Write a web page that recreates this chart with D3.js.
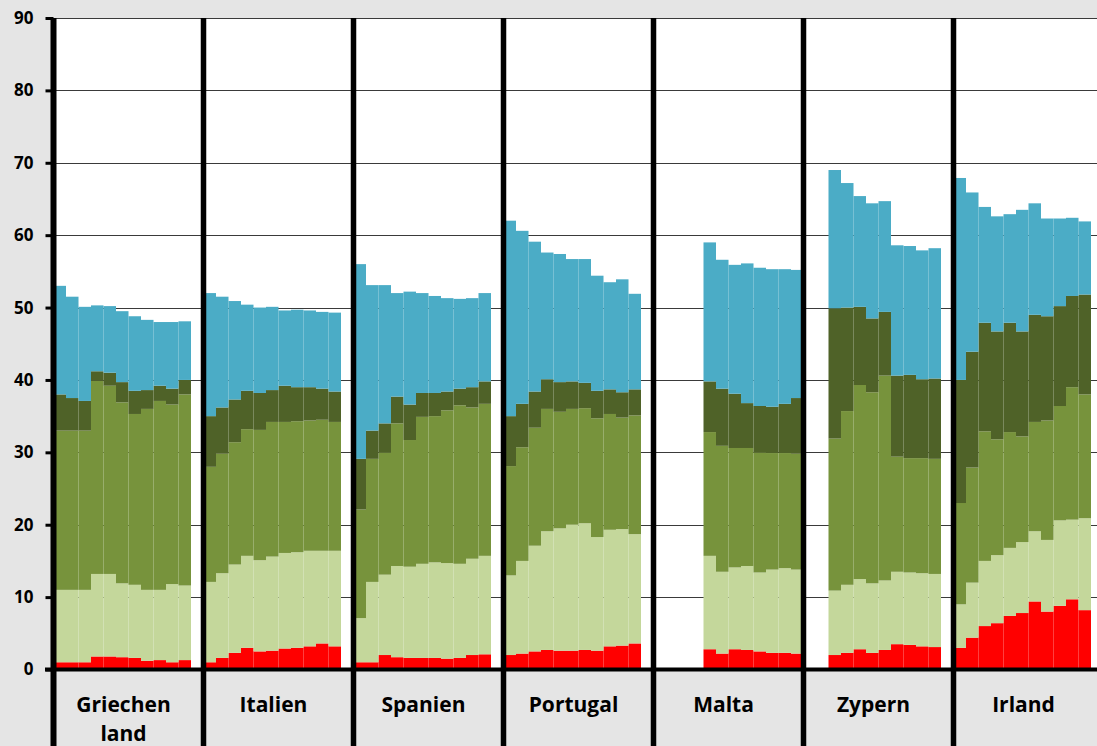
<!DOCTYPE html>
<html>
<head>
<meta charset="utf-8">
<script src="https://cdn.jsdelivr.net/npm/d3@7"></script>
<style>
  html, body { margin: 0; padding: 0; background: #e5e5e5; }
  svg { display: block; }
</style>
</head>
<body>
<svg id="chart" width="1097" height="746"></svg>
<script>
// ---------- DATA ----------
const categories = ["Griechen\nland", "Italien", "Spanien", "Portugal", "Malta", "Zypern", "Irland"];
const slots = ["s1","s2","s3","s4","s5","s6","s7","s8","s9","s10","s11","s12"];
const yTicks = [0, 10, 20, 30, 40, 50, 60, 70, 80, 90];
const seriesKeys = ["rot", "hellgruen", "gruen", "dunkelgruen", "blau"];
const seriesColors = ["#ff0000", "#c4d79b", "#77933c", "#4f6228", "#4bacc6"];

// one row per country, 12 slots (null = no bar)
const rot = [
  [1.0,1.0,1.0,1.8,1.8,1.7,1.6,1.2,1.3,1.0,1.3,null],
  [1.0,1.6,2.3,3.0,2.5,2.6,2.9,3.0,3.2,3.6,3.2,null],
  [1.0,1.0,2.0,1.7,1.6,1.6,1.6,1.5,1.6,2.0,2.1,null],
  [2.0,2.2,2.5,2.7,2.6,2.6,2.7,2.6,3.2,3.3,3.6,null],
  [null,null,null,null,2.8,2.2,2.8,2.7,2.5,2.3,2.3,2.2],
  [null,null,2.0,2.3,2.8,2.3,2.7,3.5,3.4,3.2,3.1,null],
  [3.0,4.4,6.0,6.4,7.4,7.8,9.4,8.0,8.8,9.7,8.2,null]
];
const hellgruen = [
  [10.0,10.0,10.0,11.4,11.4,10.2,10.1,9.8,9.7,10.8,10.3,null],
  [11.1,11.7,12.2,12.7,12.6,13.0,13.2,13.2,13.2,12.8,13.2,null],
  [6.1,11.1,11.1,12.6,12.6,13.0,13.2,13.2,13.0,13.3,13.6,null],
  [11.0,12.8,14.6,16.4,16.9,17.4,17.5,15.7,16.1,16.1,15.1,null],
  [null,null,null,null,12.9,11.3,11.3,11.6,10.9,11.5,11.7,11.6],
  [null,null,8.9,9.4,9.7,9.6,9.6,10.0,10.0,10.1,10.1,null],
  [6.0,7.6,9.0,9.4,9.4,9.8,9.7,9.9,11.8,11.0,12.7,null]
];
const gruen = [
  [22.0,22.0,22.0,26.7,26.0,25.0,23.6,25.0,26.1,24.8,26.4,null],
  [15.9,16.5,16.9,17.5,18.0,18.6,18.1,18.1,18.0,18.1,17.8,null],
  [15.0,17.0,16.9,19.7,17.5,20.3,20.2,21.1,21.9,20.9,21.0,null],
  [15.1,15.7,16.3,16.9,16.1,16.0,15.9,16.4,16.0,15.4,16.4,null],
  [null,null,null,null,17.1,17.4,16.5,16.3,16.6,16.1,15.9,16.0],
  [null,null,21.0,24.0,26.8,26.4,28.3,15.9,15.8,15.9,15.9,null],
  [14.0,15.9,17.9,16.0,16.0,14.6,15.1,16.5,15.8,18.3,17.1,null]
];
const dunkelgruen = [
  [5.0,4.5,4.1,1.3,1.8,2.8,3.2,2.6,2.1,2.2,2.0,null],
  [7.0,6.4,5.9,5.3,5.1,4.4,5.0,4.7,4.6,4.3,4.2,null],
  [7.0,3.9,4.0,3.7,4.9,3.3,3.2,2.6,2.3,2.8,3.1,null],
  [6.9,6.0,5.0,4.1,4.1,3.8,3.5,3.8,3.4,3.5,3.6,null],
  [null,null,null,null,7.0,7.9,7.5,6.2,6.4,6.4,6.8,7.7],
  [null,null,18.0,14.3,10.8,10.2,8.8,11.2,11.5,10.9,11.1,null],
  [17.0,16.0,15.0,14.9,15.1,14.5,14.8,14.4,13.8,12.6,13.8,null]
];
const blau = [
  [15.0,14.0,13.0,9.1,9.2,9.8,10.3,9.7,8.8,9.2,8.1,null],
  [17.0,15.3,13.6,11.9,11.8,11.5,10.4,10.7,10.6,10.6,10.9,null],
  [26.9,20.1,19.1,14.3,15.6,13.8,13.4,12.9,12.4,12.3,12.2,null],
  [27.0,23.9,20.7,17.5,17.7,16.9,17.1,15.9,14.8,15.6,13.2,null],
  [null,null,null,null,19.2,17.8,17.8,19.3,19.1,19.0,18.6,17.7],
  [null,null,19.1,17.2,15.3,15.9,15.3,18.0,17.8,17.8,18.0,null],
  [27.9,22.0,16.0,15.9,15.0,16.8,15.4,13.5,12.1,10.8,10.1,null]
];

// ---------- BUILD TABLE ----------
const seriesData = { rot, hellgruen, gruen, dunkelgruen, blau };
const rows = [];
categories.forEach((c, i) => {
  slots.forEach((s, j) => {
    if (rot[i][j] == null) return;
    const r = { category: c, slot: s };
    seriesKeys.forEach(k => r[k] = seriesData[k][i][j]);
    rows.push(r);
  });
});
const stacked = d3.stack().keys(seriesKeys)(rows);

// ---------- LAYOUT ----------
const W = 1097, H = 746;
const plotLeft = 53.5, plotTop = 18, zeroY = 669.5;
const groupW = 150;

const svg = d3.select("#chart");
const xGroup = d3.scaleBand().domain(categories).range([plotLeft, plotLeft + groupW * categories.length]).padding(0);
const xSlot = d3.scaleBand().domain(slots).range([0, xGroup.bandwidth()]).padding(0);
const y = d3.scaleLinear().domain([0, 90]).range([zeroY, plotTop]);

// background
svg.append("rect").attr("x", 0).attr("y", 0).attr("width", W).attr("height", H).attr("fill", "#e5e5e5");
svg.append("rect").attr("x", plotLeft).attr("y", plotTop).attr("width", W - plotLeft).attr("height", zeroY - plotTop).attr("fill", "#ffffff");

// gridlines
svg.append("g").selectAll("line").data(yTicks.filter(t => t > 0)).join("line")
  .attr("x1", plotLeft).attr("x2", W)
  .attr("y1", d => Math.round(y(d)) + 0.5).attr("y2", d => Math.round(y(d)) + 0.5)
  .attr("stroke", "#3a3a3a").attr("stroke-width", 1);

// bars
svg.append("g").selectAll("g").data(stacked).join("g")
  .attr("fill", (d, i) => seriesColors[i])
  .selectAll("rect").data(d => d).join("rect")
  .attr("x", d => xGroup(d.data.category) + xSlot(d.data.slot))
  .attr("width", xSlot.bandwidth())
  .attr("y", d => y(d[1]))
  .attr("height", d => y(d[0]) - y(d[1]));

// group separator lines (thick)
svg.append("g").selectAll("line").data(categories).join("line")
  .attr("x1", d => xGroup(d)).attr("x2", d => xGroup(d))
  .attr("y1", plotTop).attr("y2", H)
  .attr("stroke", "#000").attr("stroke-width", (d, i) => i === 0 ? 6 : 5.5);

// bottom axis line
svg.append("line").attr("x1", 45).attr("x2", W).attr("y1", zeroY).attr("y2", zeroY)
  .attr("stroke", "#000").attr("stroke-width", 4);

// y axis ticks + labels
const yAxis = d3.axisLeft(y).tickValues(yTicks).tickSize(8).tickPadding(12).tickFormat(d3.format("d"));
const gy = svg.append("g").attr("transform", `translate(${plotLeft},0)`).call(yAxis);
gy.select(".domain").remove();
gy.selectAll(".tick line").attr("stroke", "#000").attr("stroke-width", 3);
gy.selectAll(".tick text")
  .attr("fill", "#000")
  .style("font-family", "'Open Sans', 'DejaVu Sans', sans-serif")
  .style("font-weight", "700")
  .style("font-size", "17px");

// category labels
const lab = svg.append("g").selectAll("text").data(categories).join("text")
  .attr("x", d => xGroup(d) + xGroup.bandwidth() / 2 - 5)
  .attr("y", 712)
  .attr("text-anchor", "middle")
  .attr("fill", "#000")
  .style("font-family", "'Open Sans', 'DejaVu Sans', sans-serif")
  .style("font-weight", "700")
  .style("font-size", "21px");
lab.selectAll("tspan").data(d => d.split("\n")).join("tspan")
  .attr("x", function() { return d3.select(this.parentNode).attr("x"); })
  .attr("dy", (d, i) => i === 0 ? 0 : 29)
  .text(d => d);
</script>
</body>
</html>
